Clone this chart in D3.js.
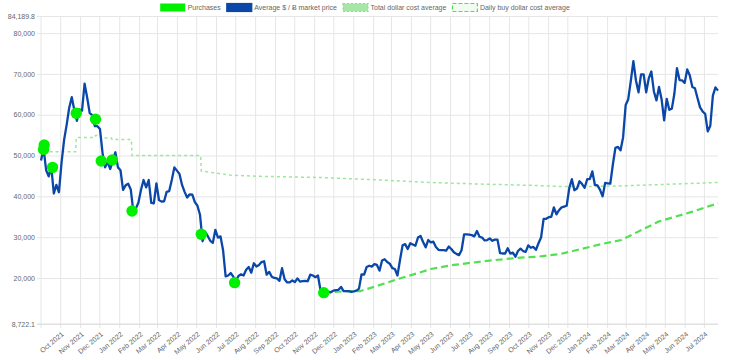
<!DOCTYPE html>
<html><head><meta charset="utf-8">
<script src="https://cdn.jsdelivr.net/npm/d3@7"></script>
<style>
html,body{margin:0;padding:0;background:#fff;}
svg{display:block;font-family:"Liberation Sans",Arial,Helvetica,sans-serif;}
</style></head><body>
<svg id="chart" width="737" height="360"></svg>
<script>
// ---- data ----
const priceStart = "2021-09-01";
const priceStepDays = 4;
const priceValues = [
 48800,51700,46400,44900,47300,40700,42800,41000,
 48200,53800,57500,61700,64300,61100,58500,61300,
 61000,67600,64200,60400,59900,57200,57200,
 56500,50600,47100,48400,46700,48600,50800,47100,
 46400,41600,42700,43100,41700,36300,37000,38500,
 41600,44000,42200,44000,38400,38300,43200,
 39100,38700,38800,41100,41300,44000,47100,
 46300,45500,42800,41100,39700,40500,40400,38600,
 37700,35500,29000,31300,30300,29100,28600,31800,
 29900,30200,26800,20400,20600,21200,20300,
 19300,20500,20900,20600,22000,22700,21300,23600,
 22800,23200,23900,24100,20800,21500,20300,20000,
 19900,19300,22400,19700,18900,18900,19400,
 19000,19900,19100,19200,19300,19200,20800,20600,
 20200,20600,17000,16900,16700,16600,16500,
 16900,17000,17100,17800,16800,16800,16800,16600,
 16700,16900,17400,20900,20800,22700,23000,22800,
 23400,23200,21800,24300,24600,23900,23500,
 22400,22200,20600,24400,28000,28300,27100,28500,
 28200,27900,29900,30300,28800,27500,29300,
 28700,28900,27600,26900,26800,26800,26700,27700,
 27100,26300,25900,25600,26800,30700,30700,
 30600,30500,30200,31500,30100,29900,29200,29300,
 29700,29100,29400,29400,26100,26000,26000,27300,
 26000,26200,25200,26600,27200,26600,26400,
 28000,27400,27600,26900,28500,29900,34500,34500,
 34900,35000,37300,35600,36600,37300,37500,37700,
 42000,44200,41500,41900,43700,43000,42100,
 44200,44200,46100,42800,42700,41600,40000,43300,
 43200,43100,47800,51900,52100,51300,54500,
 62400,63800,68300,73100,68400,65500,69900,69900,
 65500,68900,70600,65700,63500,66800,63800,58600,
 63900,61200,61500,65200,71400,68500,68400,
 67800,71100,69600,66800,66500,64100,61800,60800,
 60200,55900,57300,64700,66700,65900
];
const purchaseDates = ["2021-09-05","2021-09-06","2021-09-19","2021-10-26","2021-11-25","2021-12-04","2021-12-21","2022-01-21","2022-05-09","2022-06-30","2022-11-16"];
const purchaseValues = [51500,52600,47100,60350,58900,48650,48900,36400,30700,18850,16400];
const totalDcaDates = ["2021-09-05","2021-10-25","2021-10-26","2021-11-24","2021-11-25","2021-12-03","2021-12-04","2021-12-20","2021-12-21","2022-01-20","2022-01-21","2022-05-08","2022-05-09","2022-06-23","2022-08-09","2022-11-16","2023-02-13","2023-05-02","2023-07-19","2023-10-05","2023-11-21","2024-01-07","2024-02-28","2024-04-26","2024-07-23"];
const totalDcaValues = [50900,50900,54400,54400,54900,54900,54300,54300,53900,53900,50000,50000,46200,45200,44900,44600,44000,43400,43000,42700,42400,42400,42600,42900,43400];
const dailyDcaDates = ["2022-11-16","2022-12-15","2023-01-12","2023-02-04","2023-03-11","2023-04-16","2023-05-02","2023-06-07","2023-07-29","2023-09-19","2023-10-15","2023-11-21","2024-01-23","2024-02-23","2024-04-21","2024-06-12","2024-07-23"];
const dailyDcaValues = [16400,16700,16800,17900,19700,21400,22200,23200,24200,25000,25200,25900,28300,29300,33800,36200,38300];
const xTickFirst = "2021-10-01", xTickLast = "2024-07-01";
const yTickValues = [8722.1,20000,30000,40000,50000,60000,70000,80000,84189.8];
const legendLabels = ["Purchases","Average $ / \u0243 market price","Total dollar cost average","Daily buy dollar cost average"];

// ---- layout ----
const W = 737, H = 360;
const plotL = 41, plotR = 718, plotT = 16, plotB = 324;
const parse = d3.utcParse("%Y-%m-%d");
const t0 = parse(priceStart);
const price = priceValues.map((v,i)=>({d:d3.utcDay.offset(t0,i*priceStepDays), v}));
const purchases = purchaseDates.map((d,i)=>({d:parse(d), v:purchaseValues[i]}));
const totalDca = totalDcaDates.map((d,i)=>({d:parse(d), v:totalDcaValues[i]}));
const dailyDca = dailyDcaDates.map((d,i)=>({d:parse(d), v:dailyDcaValues[i]}));

const x = d3.scaleUtc().domain(d3.extent(price,p=>p.d)).range([plotL,plotR]);
const y = d3.scaleLinear().domain([yTickValues[0], yTickValues[yTickValues.length-1]]).range([plotB,plotT]);

const svg = d3.select("#chart");
svg.append("rect").attr("width",W).attr("height",H).attr("fill","#fff");

const gridColor = "#e6e6e6", txtColor = "#666";

// y axis + horizontal grid
const ya = svg.append("g").attr("transform",`translate(${plotL-4},0)`)
  .call(d3.axisLeft(y).tickValues(yTickValues).tickFormat(d3.format(",")).tickSize(-(plotR-plotL+4)).tickPadding(2));
ya.select(".domain").remove();
ya.selectAll("line").attr("stroke",gridColor).attr("stroke-width",1);
ya.selectAll("text").attr("fill",txtColor).style("font-size","7px");

// x axis + vertical grid
const months = d3.utcMonth.range(parse(xTickFirst), d3.utcDay.offset(parse(xTickLast),1));
const xa = svg.append("g").attr("transform",`translate(0,${plotB+4})`)
  .call(d3.axisBottom(x).tickValues(months).tickFormat(d3.utcFormat("%b %Y")).tickSize(-(plotB+4-plotT)));
xa.select(".domain").remove();
xa.selectAll("line").attr("stroke",gridColor).attr("stroke-width",1);
xa.selectAll("text").attr("fill",txtColor).style("font-size","7px")
  .attr("text-anchor","end").attr("x",0).attr("y",0).attr("dy","0.35em")
  .attr("transform","translate(2,5) rotate(-40)");
svg.append("line").attr("x1",plotL).attr("x2",plotL).attr("y1",plotT).attr("y2",plotB+4).attr("stroke",gridColor);
svg.append("line").attr("x1",plotL-4).attr("x2",plotR).attr("y1",plotB).attr("y2",plotB).attr("stroke","#dcdcdc");

const line = d3.line().x(p=>x(p.d)).y(p=>y(p.v));

svg.append("path").datum(dailyDca).attr("d",line).attr("fill","none")
  .attr("stroke","#52e052").attr("stroke-width",2.2).attr("stroke-dasharray","7,4");
svg.append("path").datum(totalDca).attr("d",line).attr("fill","none")
  .attr("stroke","#9be89b").attr("stroke-width",1.5).attr("stroke-dasharray","3,3");
svg.append("path").datum(price).attr("d",line).attr("fill","none")
  .attr("stroke","#0a47a8").attr("stroke-width",2.3).attr("stroke-linejoin","round");
svg.append("g").selectAll("circle").data(purchases).join("circle")
  .attr("cx",p=>x(p.d)).attr("cy",p=>y(p.v)).attr("r",5.7).attr("fill","#00f000");

// legend
const lg = svg.append("g").style("font-size","7px");
const boxW = 25, boxH = 8, gap = 2.5, itemGap = 6;
const styles = [
  {fill:"#00f000", stroke:"none", dash:null},
  {fill:"#0a47a8", stroke:"#0a47a8", dash:null},
  {fill:"#a6e6a6", stroke:"#90dd90", dash:"2,2"},
  {fill:"#f0fcf0", stroke:"#52e052", dash:"4,2"}
];
const items = legendLabels.map((t,i)=>{
  const g = lg.append("g");
  g.append("rect").attr("width",boxW).attr("height",boxH).attr("fill",styles[i].fill)
    .attr("stroke",styles[i].stroke).attr("stroke-width",1.2).attr("stroke-dasharray",styles[i].dash);
  const tx = g.append("text").attr("x",boxW+gap).attr("y",boxH/2).attr("dy","0.35em").attr("fill",txtColor).text(t);
  return {g, w: boxW+gap+tx.node().getComputedTextLength()};
});
const total = d3.sum(items,d=>d.w) + itemGap*(items.length-1);
let cx = 365 - total/2;
items.forEach(it=>{ it.g.attr("transform",`translate(${cx},3.5)`); cx += it.w + itemGap; });
</script>
</body></html>
